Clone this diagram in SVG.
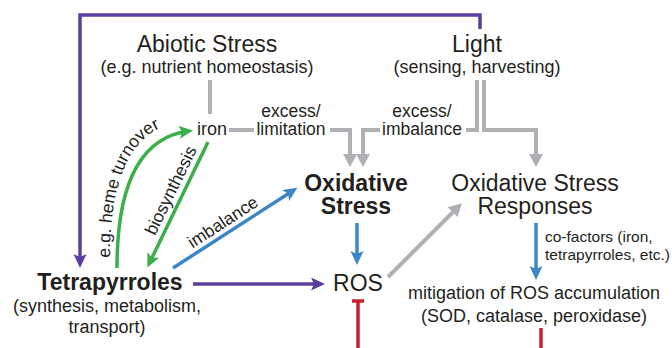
<svg xmlns="http://www.w3.org/2000/svg" width="672" height="348" viewBox="0 0 672 348">
<style>
text{font-family:"Liberation Sans",Arial,sans-serif;fill:#231f20}
.big{font-size:23px}
.bold{font-size:23px;font-weight:bold}
.mid{font-size:18px}
.sm{font-size:17.5px}
.xs{font-size:15.5px}
.c{text-anchor:middle}
.pu{stroke:#5b3f9e;stroke-width:3.5;fill:none}
.gr{stroke:#aeb0b3;stroke-width:4;fill:none}
.gn{stroke:#3cae4a;stroke-width:3.5;fill:none}
.bl{stroke:#3b86c6;stroke-width:3.5;fill:none}
.rd{stroke:#c8202f;stroke-width:3.5;fill:none}
</style>
<defs>
<marker id="aPu" markerUnits="userSpaceOnUse" markerWidth="16" markerHeight="14" refX="10" refY="6.5" orient="auto"><path d="M0,0 L14,6.5 L0,13 L3,6.5 z" fill="#5b3f9e"/></marker>
<marker id="aGr" markerUnits="userSpaceOnUse" markerWidth="16" markerHeight="16" refX="9" refY="7" orient="auto"><path d="M0,0 L13,7 L0,14 z" fill="#aeb0b3"/></marker>
<marker id="aGn" markerUnits="userSpaceOnUse" markerWidth="16" markerHeight="14" refX="10" refY="6.5" orient="auto"><path d="M0,0 L14,6.5 L0,13 L3,6.5 z" fill="#3cae4a"/></marker>
<marker id="aBl" markerUnits="userSpaceOnUse" markerWidth="16" markerHeight="14" refX="10" refY="6.5" orient="auto"><path d="M0,0 L14,6.5 L0,13 L3,6.5 z" fill="#3b86c6"/></marker>
<path id="turnPath" d="M110,258 Q110,130 182,122"/>
</defs>

<g id="connectors">
<path class="pu" d="M480,29 V15 H80 V264" marker-end="url(#aPu)"/>
<path class="pu" d="M193,284 H321" marker-end="url(#aPu)"/>
<path class="gr" d="M210,80 V114"/>
<path class="gr" d="M229,130 H254"/>
<path class="gr" d="M330,130 H350 V163" marker-end="url(#aGr)"/>
<path class="gr" d="M380,130 H363 V163" marker-end="url(#aGr)"/>
<path class="gr" d="M466,130 H477 V80"/>
<path class="gr" d="M484,80 V130 H536 V163" marker-end="url(#aGr)"/>
<path class="gr" d="M388,277 L459,206" marker-end="url(#aGr)"/>
<path class="bl" d="M357,223 V261" marker-end="url(#aBl)"/>
<path class="bl" d="M536,223 V276" marker-end="url(#aBl)"/>
<path class="bl" d="M173,268 L294,190" marker-end="url(#aBl)"/>
<path class="gn" d="M117,268 Q117,140 189,131" marker-end="url(#aGn)"/>
<path class="gn" d="M208,142 L149,264" marker-end="url(#aGn)"/>
<path class="rd" d="M358,301 V348 M352,301 H364"/>
<path class="rd" d="M541,328 V348"/>
<text class="sm c" x="291" y="117">excess/</text>
<text class="sm c" x="291" y="135">limitation</text>
<text class="sm c" x="422" y="117">excess/</text>
<text class="sm c" x="422" y="135">imbalance</text>
<text class="sm c" transform="translate(226,227) rotate(-33)">imbalance</text>
<text class="sm c" transform="translate(176,193) rotate(-64)">biosynthesis</text>
<text class="sm"><textPath href="#turnPath">e.g. heme turnover</textPath></text>
<text class="xs" x="545" y="242">co-factors (iron,</text>
<text class="xs" x="545" y="260">tetrapyrroles, etc.)</text>
</g>

<g id="abiotic">
<text class="big c" x="207" y="52">Abiotic Stress</text>
<text class="mid c" x="207" y="73">(e.g. nutrient homeostasis)</text>
</g>
<g id="light">
<text class="big c" x="477" y="52">Light</text>
<text class="mid c" x="477" y="73">(sensing, harvesting)</text>
</g>
<g id="iron">
<text class="mid c" x="212" y="135">iron</text>
</g>
<g id="oxstress">
<text class="bold c" x="356" y="191">Oxidative</text>
<text class="bold c" x="356" y="214">Stress</text>
</g>
<g id="osr">
<text class="big c" x="535" y="191">Oxidative Stress</text>
<text class="big c" x="535" y="214">Responses</text>
</g>
<g id="tetrapyrroles">
<text class="bold c" x="110" y="290">Tetrapyrroles</text>
<text class="mid c" x="107" y="312">(synthesis, metabolism,</text>
<text class="mid c" x="107" y="333">transport)</text>
</g>
<g id="ros">
<text class="big c" x="358" y="291">ROS</text>
</g>
<g id="mitigation">
<text class="mid c" x="534" y="299">mitigation of ROS accumulation</text>
<text class="mid c" x="534" y="322">(SOD, catalase, peroxidase)</text>
</g>
</svg>
